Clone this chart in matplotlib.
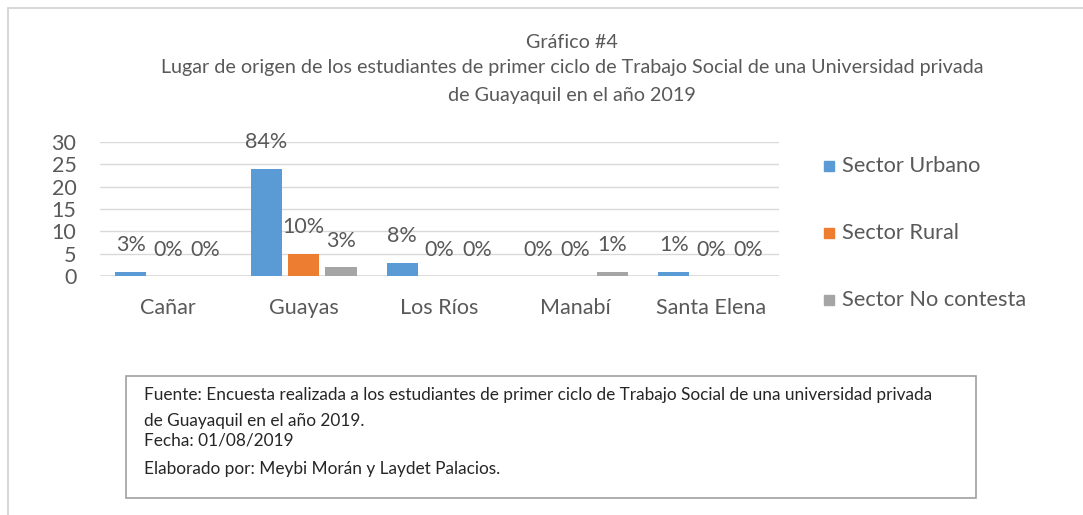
import matplotlib
matplotlib.use("Agg")
import matplotlib.pyplot as plt
from matplotlib.patches import Rectangle
import numpy as np

categories = ["Cañar", "Guayas", "Los Ríos", "Manabí", "Santa Elena"]
series_names = ["Sector Urbano", "Sector Rural", "Sector No contesta"]
urbano = [1, 24, 3, 0, 1]
rural = [0, 5, 0, 0, 0]
no_contesta = [0, 2, 0, 1, 0]
labels_urbano = ["3%", "84%", "8%", "0%", "1%"]
labels_rural = ["0%", "10%", "0%", "0%", "0%"]
labels_nc = ["0%", "3%", "0%", "1%", "0%"]
colors = ["#5B9BD5", "#ED7D31", "#A5A5A5"]
yticks = [0, 5, 10, 15, 20, 25, 30]

title_lines = ["Gráfico #4",
               "Lugar de origen de los estudiantes de primer ciclo de Trabajo Social de una Universidad privada",
               "de Guayaquil en el año 2019"]
note_lines = ["Fuente: Encuesta realizada a los estudiantes de primer ciclo de Trabajo Social de una universidad privada",
              "de Guayaquil en el año 2019.",
              "Fecha: 01/08/2019",
              "Elaborado por: Meybi Morán y Laydet Palacios."]

plt.rcParams['font.family'] = ['Lato', 'DejaVu Sans']
W, H = 1083, 515
fig = plt.figure(figsize=(W / 100, H / 100), dpi=100)
txt = "#595959"

# outer frame
fig.add_artist(Rectangle((8 / W, -0.1), 1.2, 1 - 8 / H + 0.1, transform=fig.transFigure,
                         fill=False, edgecolor="#d0d0d0", lw=1.2))

# axes: x 100..779, y 0->276, 30->142
ax = fig.add_axes([100 / W, 1 - 276 / H, 679 / W, 134 / H])
x = np.arange(len(categories))
w = 0.23
step = 0.275
data = [urbano, rural, no_contesta]
labs = [labels_urbano, labels_rural, labels_nc]
for i, (vals, lb, c, nm) in enumerate(zip(data, labs, colors, series_names)):
    pos = x + (i - 1) * step
    ax.bar(pos, vals, width=w, color=c, label=nm, zorder=3)
    for p, v, l in zip(pos, vals, lb):
        ax.annotate(l, (p, v), xytext=(0, 19), textcoords="offset points",
                    ha="center", va="center", fontsize=15.5, color=txt)

ax.set_xlim(-0.5, 4.5)
ax.set_ylim(0, 30)
ax.set_yticks(yticks)
ax.set_xticks(x)
ax.set_xticklabels(categories)
ax.grid(axis="y", color="#d9d9d9", lw=1, zorder=0)
ax.axhline(0, color="#d9d9d9", lw=1.2, zorder=2)
for s in ax.spines.values():
    s.set_visible(False)
ax.tick_params(axis="both", length=0, labelsize=15.5, labelcolor=txt)
ax.tick_params(axis="y", pad=17)
ax.tick_params(axis="x", pad=16)
for t in ax.get_yticklabels():
    t.set_horizontalalignment("right")

# title
ys = [42, 68, 95]
for t, y in zip(title_lines, ys):
    fig.text(572 / W, 1 - y / H, t, ha="center", va="center", fontsize=14.2, color=txt)

# legend
for i, nm in enumerate(series_names):
    y = 166 + i * 67
    fig.add_artist(Rectangle((824 / W, 1 - (y + 5) / H), 10 / W, 10 / H,
                             transform=fig.transFigure, color=colors[i]))
    fig.text(842 / W, 1 - y / H, nm, ha="left", va="center", fontsize=15.7, color=txt)

# note box
fig.add_artist(Rectangle((126 / W, 1 - 498 / H), 850 / W, 122 / H, transform=fig.transFigure,
                         fill=False, edgecolor="#a0a0a0", lw=1.2))
for t, y in zip(note_lines, [395, 421, 441, 469]):
    fig.text(144 / W, 1 - y / H, t, ha="left", va="center", fontsize=12.4, color="#262626")

fig.savefig("out.png", dpi=100)
